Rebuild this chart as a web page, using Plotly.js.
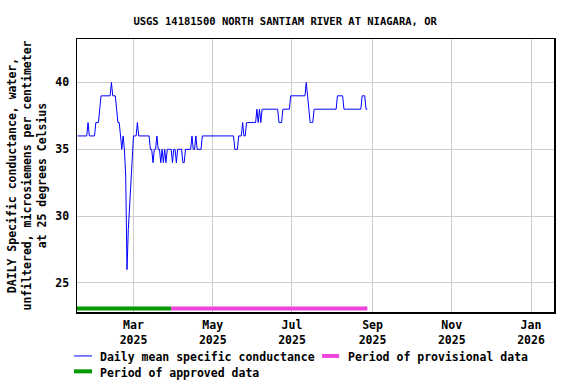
<!DOCTYPE html>
<html>
<head>
<meta charset="utf-8">
<script src="https://cdn.plot.ly/plotly-3.0.1.min.js"></script>
<style>
html,body{margin:0;padding:0;background:#fff;}
#chart{width:576px;height:384px;}
</style>
</head>
<body>
<div id="chart"></div>
<script>
// ---- data ----
var startDate = '2025-01-17';
var conductance = [
  36,36,36,36,36,36,36,36,37,36,36,36,36,36,
  37,37,37,38,39,39,39,39,39,39,39,39,40,39,39,39,
  38,37,37,36,35,36,35,33,26,29,31,33,35,36,36,36,37,
  36,36,36,36,36,36,36,36,36,
  35,35,34,35,35,36,35,35,34,35,34,35,34,35,35,35,35,
  34,35,35,34,35,35,35,35,34,34,35,35,35,35,35,
  36,35,35,36,35,35,35,35,
  36,36,36,36,36,36,36,36,36,36,36,36,36,36,36,36,36,36,36,36,36,36,36,36,36,
  35,35,35,36,36,36,37,36,36,
  37,37,37,37,37,37,37,37,38,37,38,37,
  38,38,38,38,38,38,38,38,38,38,38,38,38,
  37,37,37,38,38,38,38,38,38,
  39,39,39,39,39,39,39,39,39,39,39,39,
  40,39,38,37,37,37,
  38,38,38,38,38,38,38,38,38,38,38,38,38,38,38,38,38,38,
  39,39,39,39,39,
  38,38,38,38,38,38,38,38,38,38,38,38,38,38,
  39,39,39,38,38
];
var approvedPeriod = ['2025-01-16 12:00', '2025-03-30'];
var provisionalPeriod = ['2025-03-30', '2025-08-28'];
var periodLevel = 23.1;
var yTicks = [25, 30, 35, 40];
var titleText = 'USGS 14181500 NORTH SANTIAM RIVER AT NIAGARA, OR';
var yTitle = 'DAILY Specific conductance, water,<br>unfiltered, microsiemens per centimeter<br>at 25 degrees Celsius';
var legendLabels = ['Daily mean specific conductance', 'Period of provisional data', 'Period of approved data'];

// build daily dates
var dates = [];
(function(){
  var p = startDate.split('-');
  var t0 = Date.UTC(+p[0], +p[1]-1, +p[2]);
  for (var i = 0; i < conductance.length; i++) {
    var d = new Date(t0 + i*86400000);
    dates.push(d.toISOString().slice(0,10));
  }
})();

var FONT = 'DejaVu Sans Mono, Liberation Mono, monospace';
var BLUE = '#0000ff', PINK = '#ee44dd', GREEN = '#009900';

var traces = [
  {x: dates, y: conductance, type: 'scatter', mode: 'lines',
   line: {color: BLUE, width: 1}, hoverinfo: 'skip', showlegend: false},
  {x: approvedPeriod, y: [periodLevel, periodLevel], type: 'scatter', mode: 'lines',
   line: {color: GREEN, width: 4}, showlegend: false},
  {x: provisionalPeriod, y: [periodLevel, periodLevel], type: 'scatter', mode: 'lines',
   line: {color: PINK, width: 4}, showlegend: false}
];

function px2x(px){ return (px - 77) / (554.3 - 77); }
function py2y(py){ return (312.3 - py) / (312.3 - 39); }

var legFont = {family: FONT, size: 11.5, color: '#000', weight: 'bold'};
var annotations = [
  {xref:'paper', yref:'paper', x: px2x(97.7), y: py2y(357), text: legendLabels[0],
   showarrow:false, xanchor:'left', yanchor:'middle', font: legFont},
  {xref:'paper', yref:'paper', x: px2x(345.7), y: py2y(357), text: legendLabels[1],
   showarrow:false, xanchor:'left', yanchor:'middle', font: legFont},
  {xref:'paper', yref:'paper', x: px2x(97.7), y: py2y(373), text: legendLabels[2],
   showarrow:false, xanchor:'left', yanchor:'middle', font: legFont}
];
var shapes = [
  {type:'line', xref:'paper', yref:'paper', x0: px2x(74), x1: px2x(92), y0: py2y(356.3), y1: py2y(356.3),
   line:{color: BLUE, width: 1}},
  {type:'line', xref:'paper', yref:'paper', x0: px2x(322.3), x1: px2x(339.3), y0: py2y(356.3), y1: py2y(356.3),
   line:{color: PINK, width: 4}},
  {type:'line', xref:'paper', yref:'paper', x0: px2x(74), x1: px2x(92), y0: py2y(371.7), y1: py2y(371.7),
   line:{color: GREEN, width: 4}}
];

var layout = {
  width: 576, height: 384,
  margin: {l: 77, r: 21.7, t: 39, b: 71.7, pad: 0},
  paper_bgcolor: '#fff', plot_bgcolor: '#fff',
  showlegend: false,
  font: {family: FONT, size: 11.5, color: '#000', weight: 'bold'},
  title: {text: titleText, x: 0.495, xanchor: 'center', y: 0.945, yanchor: 'middle',
          font: {family: FONT, size: 10.5, color: '#000', weight: 'bold'}},
  xaxis: {
    type: 'date',
    range: ['2025-01-16 12:00', '2026-01-18 17:00'],
    tick0: '2025-03-01', dtick: 'M2', tickformat: '%b<br>%Y',
    showgrid: true, gridcolor: '#cccccc', gridwidth: 1,
    showline: true, linecolor: '#000', linewidth: 1.5, mirror: true,
    ticks: '', zeroline: false, automargin: false,
    ticklabelstandoff: 2,
    tickfont: {family: FONT, size: 11.5, color: '#000', weight: 'bold'}
  },
  yaxis: {
    range: [22.83, 43.25],
    tickvals: yTicks,
    showgrid: true, gridcolor: '#cccccc', gridwidth: 1,
    showline: true, linecolor: '#000', linewidth: 1.5, mirror: true,
    ticks: '', zeroline: false, automargin: false,
    ticklabelstandoff: 4,
    tickfont: {family: FONT, size: 11.5, color: '#000', weight: 'bold'},
    title: {text: yTitle, standoff: 6, font: {family: FONT, size: 11.5, color: '#000', weight: 'bold'}}
  },
  annotations: annotations,
  shapes: shapes
};

Plotly.newPlot('chart', traces, layout, {displayModeBar: false, staticPlot: true});
</script>
</body>
</html>
